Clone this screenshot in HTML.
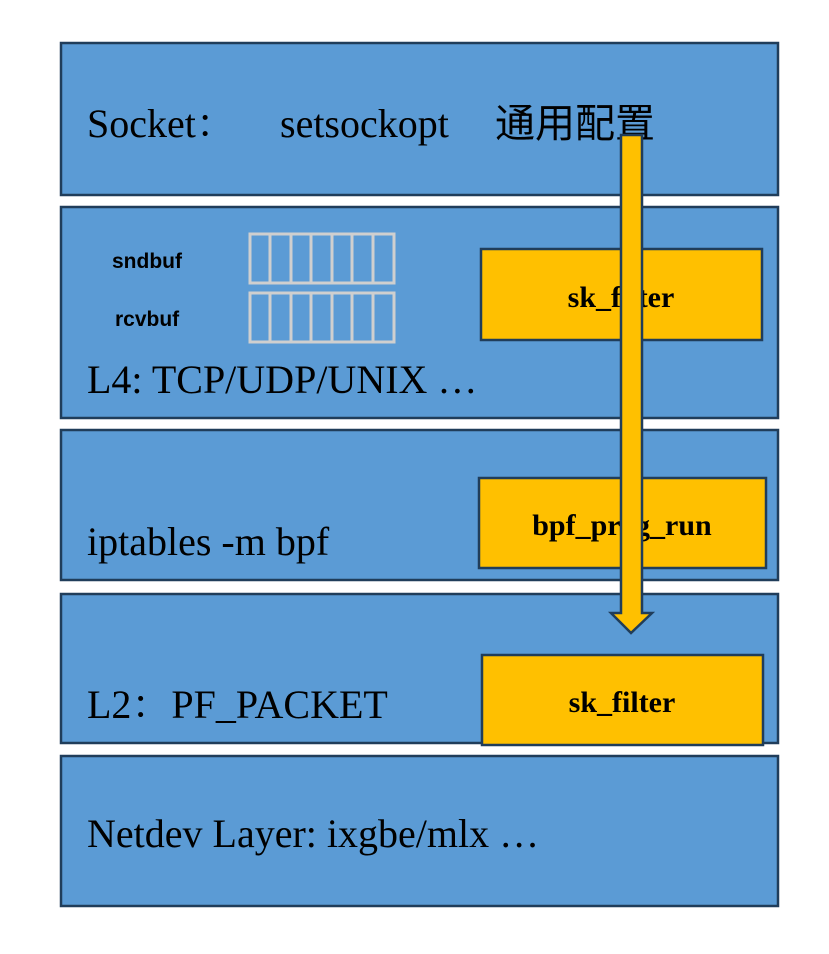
<!DOCTYPE html>
<html><head><meta charset="utf-8"><style>
html,body{margin:0;padding:0;background:#fff;}
svg text{font-family:"Liberation Serif","Noto Serif CJK SC","Noto Sans CJK SC",serif;fill:#000;}
.s{font-family:"Liberation Sans","DejaVu Sans",sans-serif;font-weight:bold;}
</style></head><body>
<svg width="829" height="949" viewBox="0 0 829 949" xmlns="http://www.w3.org/2000/svg">
<g fill="#5B9BD5" stroke="#203D5A" stroke-width="2.5">
<rect x="61" y="43" width="717" height="152"/>
<rect x="61" y="207" width="717" height="211"/>
<rect x="61" y="430" width="717" height="150"/>
<rect x="61" y="594" width="717" height="149"/>
<rect x="61" y="756" width="717" height="150"/>
</g>
<g fill="none" stroke="#CFCFCF" stroke-width="3">
<rect x="250" y="234" width="144" height="49"/>
<line x1="270" y1="234" x2="270" y2="283"/><line x1="291" y1="234" x2="291" y2="283"/><line x1="311" y1="234" x2="311" y2="283"/><line x1="332" y1="234" x2="332" y2="283"/><line x1="352" y1="234" x2="352" y2="283"/><line x1="373" y1="234" x2="373" y2="283"/>
<rect x="250" y="293" width="144" height="49"/>
<line x1="270" y1="293" x2="270" y2="342"/><line x1="291" y1="293" x2="291" y2="342"/><line x1="311" y1="293" x2="311" y2="342"/><line x1="332" y1="293" x2="332" y2="342"/><line x1="352" y1="293" x2="352" y2="342"/><line x1="373" y1="293" x2="373" y2="342"/>
</g>
<g fill="#FFC000" stroke="#203D5A" stroke-width="2.5">
<rect x="481" y="249" width="281" height="91"/>
<rect x="479" y="478" width="287" height="90"/>
<rect x="482" y="655" width="281" height="90"/>
</g>
<text x="87" y="137" font-size="40">Socket：</text>
<text x="280" y="137" font-size="40">setsockopt</text>
<text x="495" y="137" font-size="40" style="font-family:'Noto Sans CJK SC',sans-serif">通用配置</text>
<text class="s" x="112" y="268" font-size="21">sndbuf</text>
<text class="s" x="115" y="326" font-size="21">rcvbuf</text>
<text x="87" y="393" font-size="40">L4: TCP/UDP/UNIX …</text>
<text x="87" y="555" font-size="40">iptables -m bpf</text>
<text x="87" y="718" font-size="40">L2：PF_PACKET</text>
<text x="87" y="847" font-size="40">Netdev Layer: ixgbe/mlx …</text>
<text x="621" y="307" font-size="30" font-weight="bold" text-anchor="middle">sk_filter</text>
<text x="622" y="535" font-size="30" font-weight="bold" text-anchor="middle">bpf_prog_run</text>
<text x="622" y="712" font-size="30" font-weight="bold" text-anchor="middle">sk_filter</text>
<polygon points="621,135 642,135 642,613 652,613 631,633 611,613 621,613" fill="#FFC000" stroke="#203D5A" stroke-width="2.5" stroke-linejoin="miter"/>
</svg>
</body></html>
